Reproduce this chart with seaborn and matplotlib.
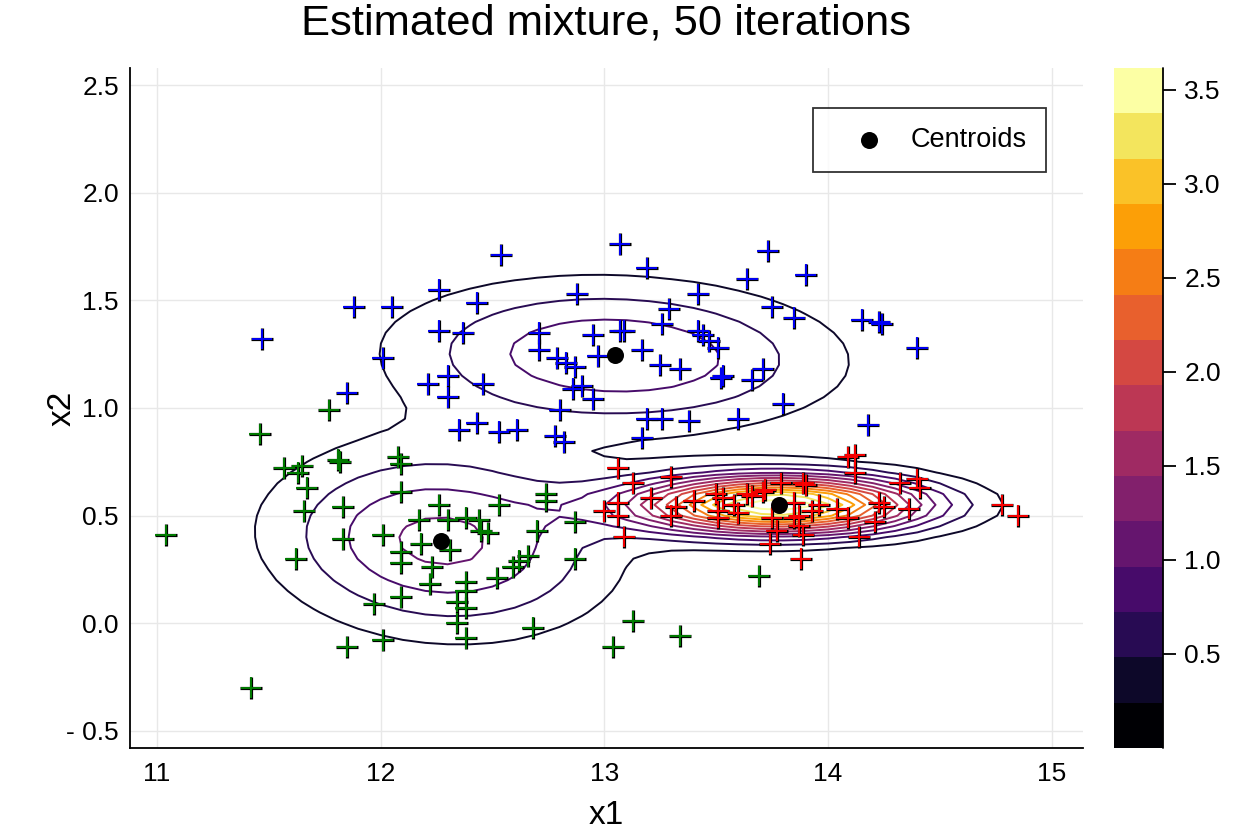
import numpy as np
import pandas as pd
import matplotlib
matplotlib.use('Agg')
import matplotlib.pyplot as plt
import matplotlib.colors as mcolors
from matplotlib.ticker import NullLocator
import seaborn as sns

# Pontos de cada cluster
blue_x = [12.54, 12.26, 12.43, 11.88, 12.05, 11.47, 12.26, 12.37, 12.01, 12.30, 12.21, 12.46, 12.30, 11.85,
          12.43, 12.35, 12.53, 12.61, 13.07, 13.73, 13.19, 13.64, 12.88, 13.42, 13.29, 13.75, 13.85, 13.26,
          12.71, 12.95, 13.07, 13.09, 13.42, 13.44, 13.47, 13.51, 12.71, 12.79, 12.83, 12.87, 12.97, 13.17,
          13.25, 13.34, 13.53, 13.52, 13.66, 13.71, 12.86, 12.90, 12.95, 12.80, 13.19, 13.26, 13.38, 13.60,
          13.80, 12.78, 12.82, 13.17, 13.90, 14.15, 14.23, 14.24, 14.40, 14.18]
blue_y = [1.71, 1.55, 1.49, 1.47, 1.47, 1.32, 1.36, 1.35, 1.23, 1.15, 1.11, 1.11, 1.05, 1.07,
          0.93, 0.90, 0.89, 0.90, 1.76, 1.73, 1.65, 1.60, 1.53, 1.53, 1.46, 1.47, 1.42, 1.39,
          1.35, 1.34, 1.36, 1.36, 1.36, 1.34, 1.31, 1.28, 1.27, 1.23, 1.21, 1.19, 1.24, 1.27,
          1.20, 1.18, 1.15, 1.14, 1.13, 1.18, 1.09, 1.10, 1.04, 0.99, 0.95, 0.95, 0.94, 0.95,
          1.02, 0.87, 0.84, 0.86, 1.62, 1.41, 1.40, 1.39, 1.28, 0.92]

green_x = [11.46, 11.77, 11.57, 11.65, 11.63, 11.67, 11.81, 11.82, 12.08, 12.09, 12.09, 11.66, 11.83, 11.04,
           11.83, 12.01, 12.17, 12.18, 12.26, 12.09, 12.09, 12.23, 12.22, 11.62, 11.97, 12.09, 12.01, 11.85,
           11.42, 12.30, 12.38, 12.44, 12.45, 12.48, 12.53, 12.74, 12.74, 12.70, 12.87, 12.87, 12.31, 12.52,
           12.59, 12.62, 12.66, 12.38, 12.38, 12.34, 12.38, 12.34, 12.38, 12.68, 13.13, 13.04, 13.34, 13.69]
green_y = [0.88, 0.99, 0.72, 0.73, 0.70, 0.63, 0.76, 0.75, 0.77, 0.74, 0.61, 0.52, 0.54, 0.41,
           0.39, 0.41, 0.48, 0.37, 0.55, 0.33, 0.28, 0.26, 0.18, 0.30, 0.09, 0.12, -0.08, -0.11,
           -0.30, 0.48, 0.49, 0.48, 0.43, 0.42, 0.55, 0.60, 0.57, 0.43, 0.47, 0.30, 0.34, 0.21,
           0.26, 0.29, 0.31, 0.19, 0.15, 0.10, 0.07, 0.00, -0.07, -0.02, 0.01, -0.11, -0.06, 0.22]

red_x = [13.06, 13.13, 13.21, 13.30, 13.06, 13.06, 13.00, 13.09, 13.30, 13.32, 13.40, 13.50, 13.51, 13.53,
         13.58, 13.60, 13.64, 13.71, 13.72, 13.79, 13.89, 13.90, 13.85, 13.87, 13.75, 13.96, 13.93, 14.04,
         14.09, 14.21, 14.23, 14.25, 14.09, 14.12, 14.12, 13.77, 13.87, 13.89, 13.74, 13.88, 14.14, 14.32,
         14.40, 14.41, 14.36, 14.78, 14.85, 13.51, 13.66, 13.85]
red_y = [0.72, 0.65, 0.58, 0.68, 0.56, 0.50, 0.52, 0.40, 0.50, 0.54, 0.57, 0.60, 0.52, 0.58,
         0.55, 0.51, 0.60, 0.61, 0.62, 0.65, 0.65, 0.64, 0.56, 0.50, 0.49, 0.55, 0.52, 0.53,
         0.49, 0.47, 0.56, 0.54, 0.77, 0.78, 0.70, 0.43, 0.45, 0.41, 0.37, 0.30, 0.40, 0.65,
         0.67, 0.63, 0.53, 0.55, 0.50, 0.49, 0.59, 0.49]

# Centróides e parâmetros das componentes gaussianas (azul, verde, vermelho)
centroid_x = [13.05, 12.27, 13.78]
centroid_y = [1.245, 0.38, 0.55]
comp_sx = [0.63, 0.485, 0.43]
comp_sy = [0.225, 0.28, 0.09]
comp_rho = [-0.08, -0.1, 0.0]
comp_peak = [0.95, 1.04, 3.61]

x_ticks = [11, 12, 13, 14, 15]
y_ticks = [-0.5, 0.0, 0.5, 1.0, 1.5, 2.0, 2.5]
y_ticklabels = ['- 0.5', '0.0', '0.5', '1.0', '1.5', '2.0', '2.5']
cbar_ticks = [0.5, 1.0, 1.5, 2.0, 2.5, 3.0, 3.5]

sns.set_style('white')
plt.rcParams['font.family'] = ['Liberation Sans', 'DejaVu Sans']
plt.rcParams['text.color'] = 'black'

fig = plt.figure(figsize=(12.5, 8.34), dpi=100)
ax = fig.add_axes([0.104, 0.1031, 0.7624, 0.8154])

# Densidade da mistura numa grade
gx = np.linspace(10.9, 15.2, 44)
gy = np.linspace(-0.6, 2.6, 65)
X, Y = np.meshgrid(gx, gy)
Z = np.zeros_like(X)
for mx, my, sx, sy, rho, pk in zip(centroid_x, centroid_y, comp_sx, comp_sy, comp_rho, comp_peak):
    dx = (X - mx) / sx
    dy = (Y - my) / sy
    q = (dx**2 - 2 * rho * dx * dy + dy**2) / (1 - rho**2)
    Z += pk * np.exp(-q / 2)

zmin, zmax = 0.0, Z.max()
levels = np.linspace(zmin, zmax, 16)[1:-1]
band_colors = plt.get_cmap('inferno')(np.linspace(0, 1, 15))
ax.contour(X, Y, Z, levels=levels, colors=band_colors[1:], linewidths=1.4, zorder=2)

# Pontos
df = pd.DataFrame({
    'x': blue_x + green_x + red_x,
    'y': blue_y + green_y + red_y,
    'cluster': ['1'] * len(blue_x) + ['2'] * len(green_x) + ['3'] * len(red_x),
})
sns.scatterplot(data=df, x='x', y='y', color='black', marker='+', s=250, linewidth=2.3,
                legend=False, ax=ax, zorder=3)
sns.scatterplot(data=df, x='x', y='y', hue='cluster', palette={'1': '#0000ff', '2': '#008000', '3': '#ff0000'},
                marker='+', s=220, linewidth=1.35, legend=False, ax=ax, zorder=4)

cent = pd.DataFrame({'x': centroid_x, 'y': centroid_y})
sns.scatterplot(data=cent, x='x', y='y', color='black', s=150, edgecolor='black', linewidth=0,
                label='Centroids', ax=ax, zorder=5)

ax.set_xlim(10.88, 15.14)
ax.set_ylim(-0.58, 2.58)
ax.set_xticks(x_ticks)
ax.set_xticklabels([str(t) for t in x_ticks])
ax.set_yticks(y_ticks)
ax.set_yticklabels(y_ticklabels)
ax.set_xlabel('')
ax.set_ylabel('')
ax.grid(True, color='#e8e8e8', linewidth=1.0, zorder=0)
ax.set_axisbelow(True)
for s in ['top', 'right']:
    ax.spines[s].set_visible(False)
for s in ['left', 'bottom']:
    ax.spines[s].set_color('black')
    ax.spines[s].set_linewidth(1.3)
ax.tick_params(axis='y', direction='in', length=11, width=1.3, pad=8, labelsize=19, colors='black')
ax.tick_params(axis='x', direction='in', length=8, width=1.3, pad=10, labelsize=19, colors='black')

leg = ax.legend(loc='upper right', bbox_to_anchor=(0.9612, 0.941), fontsize=19.5, frameon=True,
                fancybox=False, edgecolor='black', borderpad=0.7, handlelength=2.73,
                handletextpad=0.2, borderaxespad=0.0)
leg.get_frame().set_linewidth(1.3)
for t in leg.get_texts():
    t.set_color('black')

fig.text(0.4852, 1 - 24 / 834, 'Estimated mixture, 50 iterations', ha='center', va='center',
         fontsize=31.3, color='black')
fig.text(0.4852, 1 - 815 / 834, 'x1', ha='center', va='center', fontsize=24, color='black')
fig.text(62 / 1250, 1 - 408 / 834, 'x2', ha='center', va='center', fontsize=24, rotation=90, color='black')

# Barra de cores discreta
cax = fig.add_axes([0.8915, 0.1031, 0.0392, 0.8154])
bounds = np.concatenate([[zmin], levels, [zmax]])
cmap_l = mcolors.ListedColormap(band_colors)
norm = mcolors.BoundaryNorm(bounds, cmap_l.N)
cb = fig.colorbar(plt.cm.ScalarMappable(norm=norm, cmap=cmap_l), cax=cax, ticks=cbar_ticks,
                  spacing='proportional')
cb.outline.set_visible(False)
cax.yaxis.set_minor_locator(NullLocator())
cax.plot([1, 1], [0, 1], transform=cax.transAxes, color='black', lw=1.3, clip_on=False)
cax.set_yticklabels(['%.1f' % t for t in cbar_ticks])
cax.tick_params(axis='y', which='both', direction='out', length=9, width=1.3, pad=6, labelsize=19,
                colors='black')
cax.tick_params(axis='y', which='minor', length=0)

plt.savefig('out.png', dpi=100)
plt.close()
